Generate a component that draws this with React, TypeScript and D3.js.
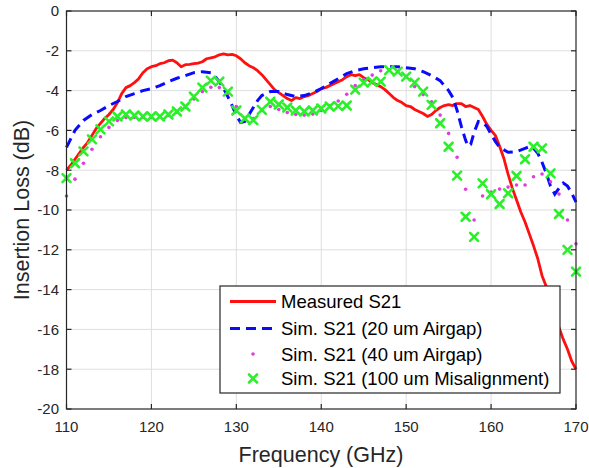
import React from "react";
import * as d3 from "d3";

const W = 589;
const H = 468;

const xTicks = [110, 120, 130, 140, 150, 160, 170];
const yTicks = [0, -2, -4, -6, -8, -10, -12, -14, -16, -18, -20];

const legendLabels = [
  "Measured S21",
  "Sim. S21 (20 um Airgap)",
  "Sim. S21 (40 um Airgap)",
  "Sim. S21 (100 um Misalignment)",
];

// Measured S21 (red solid)
const measFreq = [
  110, 110.5, 111, 111.5, 112, 112.5, 113, 113.5, 114, 114.5, 115, 115.5, 116, 116.5, 117, 117.5, 118, 118.5, 119, 119.5,
  120, 120.5, 121, 121.5, 122, 122.5, 123, 123.5, 124, 124.5, 125, 125.5, 126, 126.5, 127, 127.5, 128, 128.5, 129, 129.5,
  130, 130.5, 131, 131.5, 132, 132.5, 133, 133.5, 134, 134.5, 135, 135.5, 136, 136.5, 137, 137.5, 138, 138.5, 139, 139.5,
  140, 140.5, 141, 141.5, 142, 142.5, 143, 143.5, 144, 144.5, 145, 145.5, 146, 146.5, 147, 147.5, 148, 148.5, 149, 149.5,
  150, 150.5, 151, 151.5, 152, 152.5, 153, 153.5, 154, 154.5, 155, 155.5, 156, 156.5, 157, 157.5, 158, 158.5, 159, 159.5,
  160, 160.5, 161, 161.5, 162, 162.5, 163, 163.5, 164, 164.5, 165, 165.5, 166, 166.5, 167, 167.5, 168, 168.5, 169, 169.5, 170,
];
const measS21 = [
  -8.0, -7.75, -7.45, -7.15, -6.85, -6.6, -6.25, -5.9, -5.65, -5.4, -5.2, -4.95, -4.6, -4.15, -3.85, -3.75, -3.6, -3.4, -3.1, -2.9,
  -2.8, -2.75, -2.65, -2.6, -2.5, -2.47, -2.6, -2.8, -2.7, -2.68, -2.65, -2.62, -2.55, -2.4, -2.35, -2.3, -2.2, -2.15, -2.2, -2.18,
  -2.25, -2.4, -2.6, -2.75, -2.85, -3.0, -3.2, -3.45, -3.7, -3.95, -4.1, -4.25, -4.4, -4.5, -4.35, -4.4, -4.3, -4.25, -4.15, -4.05,
  -3.9, -3.85, -3.75, -3.65, -3.55, -3.45, -3.3, -3.2, -3.25, -3.2, -3.35, -3.45, -3.6, -3.7, -3.8, -3.95, -4.15, -4.35, -4.5, -4.6,
  -4.75, -4.8, -4.95, -5.05, -5.15, -5.3, -5.2, -5.0, -4.85, -4.75, -4.7, -4.75, -4.65, -4.65, -4.8, -4.75, -4.85, -4.95, -5.3, -5.7,
  -6.0, -6.25, -6.8, -7.4, -8.2, -8.9, -9.5, -10.1, -10.6, -11.2, -11.8, -12.45, -13.3, -13.85, -14.5, -15.3, -15.9, -16.5, -17.0, -17.6, -18.0,
];

// Sim. S21 (20 um Airgap) (blue dashed)
const sim20Freq = [
  110, 111, 112, 113, 114, 115, 116, 117, 118, 119, 120, 121, 122, 123, 124, 125, 126, 127, 127.5, 128, 128.5, 129, 129.5,
  130, 130.5, 131, 131.5, 132, 132.5, 133, 134, 135, 136, 137, 138, 139, 140, 141, 142, 143, 144, 145, 146, 147, 148, 149,
  150, 151, 152, 153, 154, 154.5, 155, 155.5, 156, 156.5, 157, 157.3, 157.6, 158, 158.5, 159, 159.5, 160, 160.5, 161, 162,
  163, 164, 164.5, 165, 165.5, 166, 166.5, 167, 167.5, 168, 168.5, 169, 169.5, 170,
];
const sim20S21 = [
  -6.85, -6.0, -5.5, -5.2, -5.0, -4.75, -4.55, -4.3, -4.15, -4.0, -3.9, -3.75, -3.55, -3.38, -3.25, -3.1, -3.05, -3.1, -3.3, -3.55, -3.9, -4.3, -4.75,
  -5.25, -5.6, -5.55, -5.2, -4.85, -4.5, -4.25, -4.05, -4.05, -4.2, -4.3, -4.25, -4.1, -3.9, -3.65, -3.4, -3.15, -3.0, -2.9, -2.85, -2.8, -2.8, -2.8,
  -2.85, -2.9, -3.05, -3.25, -3.5, -3.75, -4.0, -4.35, -5.0, -5.8, -6.5, -6.8, -6.7, -6.1, -5.55, -5.6, -5.8, -6.2, -6.55, -6.85, -7.1,
  -7.07, -6.9, -6.82, -6.9, -7.15, -7.6, -8.15, -8.8, -9.2, -8.9, -8.65, -8.8, -9.15, -9.6,
];

// Sim. S21 (40 um Airgap) (magenta dots), 1 GHz steps from 110 to 170
const sim40Freq = d3.range(110, 171, 1);
const sim40S21 = [
  -9.3, -8.45, -7.65, -6.95, -6.32, -5.85, -5.5, -5.35, -5.35, -5.35,
  -5.35, -5.3, -5.25, -5.1, -4.85, -4.42, -4.05, -3.83, -3.85, -4.14,
  -4.8, -5.4, -5.4, -5.0, -4.8, -4.95, -5.1, -5.2, -5.23, -5.18,
  -5.0, -4.75, -4.52, -4.18, -3.75, -3.45, -3.22, -3.0, -2.95, -3.05,
  -3.3, -3.8, -4.2, -4.56, -5.23, -6.15, -7.35, -8.96, -10.5, -9.3,
  -9.1, -8.95, -8.85, -8.74, -8.74, -8.33, -8.19, -8.58, -9.2, -10.5,
  -11.7,
];

// Sim. S21 (100 um Misalignment) (green x), 1 GHz steps from 110 to 170
const sim100Freq = d3.range(110, 171, 1);
const sim100S21 = [
  -8.4, -7.65, -7.05, -6.45, -5.95, -5.55, -5.3, -5.2, -5.25, -5.3,
  -5.3, -5.3, -5.2, -5.05, -4.8, -4.3, -3.85, -3.5, -3.55, -4.05,
  -5.0, -5.4, -5.48, -4.97, -4.56, -4.7, -4.85, -5.0, -5.05, -5.0,
  -4.9, -4.8, -4.78, -4.75, -3.95, -3.6, -3.55, -3.55, -2.97, -3.05,
  -3.3, -3.6, -4.05, -4.72, -5.64, -6.82, -8.27, -10.34, -11.35, -8.66,
  -9.21, -9.7, -9.16, -8.29, -7.45, -6.82, -6.9, -8.16, -10.2, -12.0,
  -13.1,
];

const RED = "#ff1010";
const BLUE = "#0a0aff";
const MAGENTA = "#e03ce0";
const GREEN = "#2af02a";
const FONT = "'Liberation Sans', Arial, sans-serif";

const M = { left: 66.5, right: 576, top: 11, bottom: 409 };

export default function App() {
  const x = d3.scaleLinear().domain([110, 170]).range([M.left, M.right]);
  const y = d3.scaleLinear().domain([-20, 0]).range([M.bottom, M.top]);

  const line = d3
    .line<[number, number]>()
    .x((d) => x(d[0]))
    .y((d) => y(d[1]));

  const measPts: [number, number][] = measFreq.map((f, i) => [f, measS21[i]]);
  const sim20Pts: [number, number][] = sim20Freq.map((f, i) => [f, sim20S21[i]]);

  const tickLen = 5;
  const xMark = (cx: number, cy: number, s: number, key: string) => (
    <g key={key} stroke={GREEN} strokeWidth={2.6} strokeLinecap="round">
      <line x1={cx - s} y1={cy - s} x2={cx + s} y2={cy + s} />
      <line x1={cx - s} y1={cy + s} x2={cx + s} y2={cy - s} />
    </g>
  );

  const legX = 220;
  const legY = 286;
  const legW = 340;
  const legH = 107;
  const rowY = [301.5, 328.5, 354, 378.5];
  const sampleX0 = 230;
  const sampleX1 = 276;
  const textX = 281;

  return (
    <svg
      width={W}
      height={H}
      style={{ position: "absolute", left: 0, top: 0, background: "#fff" }}
      fontFamily={FONT}
    >
      <rect x={0} y={0} width={W} height={H} fill="#fff" />
      {/* grid */}
      <g stroke="#dedede" strokeWidth={1}>
        {xTicks.slice(1, -1).map((t) => (
          <line key={"gx" + t} x1={x(t)} x2={x(t)} y1={M.top} y2={M.bottom} />
        ))}
        {yTicks.slice(1, -1).map((t) => (
          <line key={"gy" + t} x1={M.left} x2={M.right} y1={y(t)} y2={y(t)} />
        ))}
      </g>

      {/* data */}
      <path d={line(measPts) || ""} fill="none" stroke={RED} strokeWidth={2.8} strokeLinejoin="round" />
      <path
        d={line(sim20Pts) || ""}
        fill="none"
        stroke={BLUE}
        strokeWidth={3}
        strokeDasharray="10,6"
      />
      {sim40Freq.map((f, i) => (
        <circle key={"m" + f} cx={x(f)} cy={y(sim40S21[i])} r={1.8} fill={MAGENTA} />
      ))}
      {sim100Freq.map((f, i) => xMark(x(f), y(sim100S21[i]), 4, "g" + f))}

      {/* axes box */}
      <g stroke="#262626" strokeWidth={1.2} fill="none">
        <rect x={M.left} y={M.top} width={M.right - M.left} height={M.bottom - M.top} />
        {xTicks.map((t) => (
          <g key={"xt" + t}>
            <line x1={x(t)} x2={x(t)} y1={M.bottom} y2={M.bottom - tickLen} />
            <line x1={x(t)} x2={x(t)} y1={M.top} y2={M.top + tickLen} />
          </g>
        ))}
        {yTicks.map((t) => (
          <g key={"yt" + t}>
            <line x1={M.left} x2={M.left + tickLen} y1={y(t)} y2={y(t)} />
            <line x1={M.right} x2={M.right - tickLen} y1={y(t)} y2={y(t)} />
          </g>
        ))}
      </g>

      {/* tick labels */}
      <g fill="#262626" fontSize={15}>
        {xTicks.map((t) => (
          <text key={"xl" + t} x={x(t)} y={432} textAnchor="middle">
            {t}
          </text>
        ))}
        {yTicks.map((t) => (
          <text key={"yl" + t} x={59} y={y(t)} dy="0.36em" textAnchor="end">
            {t}
          </text>
        ))}
      </g>

      {/* axis labels */}
      <text x={321} y={462} textAnchor="middle" fontSize={21.5} fill="#262626">
        Frequency (GHz)
      </text>
      <text
        transform={`translate(29, 210) rotate(-90)`}
        textAnchor="middle"
        fontSize={21.5}
        fill="#262626"
      >
        Insertion Loss (dB)
      </text>

      {/* legend */}
      <rect x={legX} y={legY} width={legW} height={legH} fill="#fff" stroke="#262626" strokeWidth={1.2} />
      <line x1={sampleX0} x2={sampleX1} y1={rowY[0]} y2={rowY[0]} stroke={RED} strokeWidth={2.8} />
      <line
        x1={sampleX0}
        x2={sampleX1}
        y1={rowY[1]}
        y2={rowY[1]}
        stroke={BLUE}
        strokeWidth={3}
        strokeDasharray="10,6"
      />
      <circle cx={(sampleX0 + sampleX1) / 2} cy={rowY[2]} r={1.8} fill={MAGENTA} />
      {xMark((sampleX0 + sampleX1) / 2, rowY[3], 4, "legx")}
      <g fontSize={18.5} fill="#000">
        {legendLabels.map((l, i) => (
          <text key={l} x={textX} y={rowY[i]} dy="0.36em">
            {l}
          </text>
        ))}
      </g>
    </svg>
  );
}
